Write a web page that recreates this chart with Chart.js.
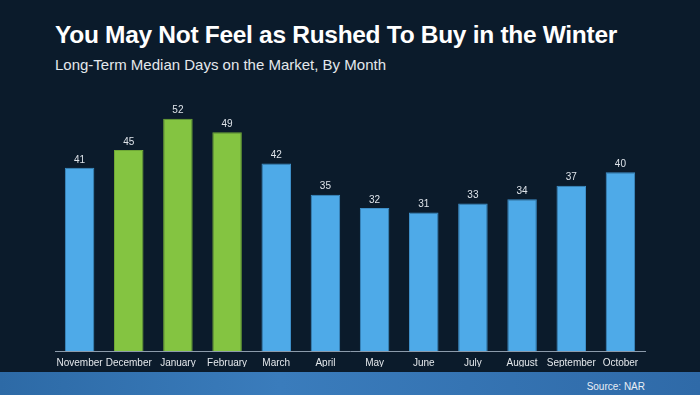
<!DOCTYPE html>
<html lang="en">
<head>
  <meta charset="UTF-8">
  <script src="https://cdn.jsdelivr.net/npm/chart.js"></script>
  <title>Days on the Market</title>
  <style>
    html, body { margin:0; padding:0; }
    body { width:700px; height:395px; background:#0b1b2b; position:relative; overflow:hidden; font-family:"Liberation Sans", Arial, sans-serif; }
    #title { position:absolute; left:55px; top:21px; color:#fff; font-size:24.5px; font-weight:bold; letter-spacing:-0.3px; }
    #subtitle { position:absolute; left:55px; top:56px; color:#e4e8ec; font-size:15px; }
    #strip { position:absolute; left:0; top:372px; width:700px; height:23px; background:linear-gradient(90deg, #2d6aa6 0%, #3a7cbc 40%, #2f6aa8 100%); }
    #source { position:absolute; right:55px; top:381px; color:#e8eef5; font-size:10px; }
    #wrap { position:absolute; left:0; top:0; width:700px; height:395px; }
  </style>
</head>
<body>
  <div id="strip"></div>
  <div id="title">You May Not Feel as Rushed To Buy in the Winter</div>
  <div id="subtitle">Long-Term Median Days on the Market, By Month</div>
  <div id="source">Source: NAR</div>
  <div id="wrap"><canvas id="myChart"></canvas></div>
  <script>
    const months = ['November','December','January','February','March','April','May','June','July','August','September','October'];
    const days = [41, 45, 52, 49, 42, 35, 32, 31, 33, 34, 37, 40];
    const winterMonths = ['December','January','February'];

    const blue = '#4eaae8';
    const green = '#84c441';

    // value above each bar
    const topLabels = {
      id: 'topLabels',
      afterDatasetsDraw(chart){
        const ctx = chart.ctx;
        const meta = chart.getDatasetMeta(0);
        ctx.save();
        ctx.fillStyle = '#dfe4ea';
        ctx.font = '10px "Liberation Sans", Arial, sans-serif';
        ctx.textAlign = 'center';
        ctx.textBaseline = 'bottom';
        meta.data.forEach((bar, i) => {
          ctx.fillText(days[i], bar.x, bar.y - 3);
        });
        ctx.restore();
      }
    };

    new Chart(document.getElementById('myChart'), {
      type: 'bar',
      data: {
        labels: months,
        datasets: [{
          data: days,
          backgroundColor: months.map(m => winterMonths.includes(m) ? green : blue),
          borderColor: months.map(m => winterMonths.includes(m) ? '#6fa836' : '#3e8fc8'),
          borderWidth: 1,
          barPercentage: 0.6,
          categoryPercentage: 1
        }]
      },
      options: {
        responsive: true,
        maintainAspectRatio: false,
        animation: false,
        layout: { padding: { left: 55, right: 55, top: 83, bottom: 28 } },
        plugins: { legend: { display: false }, tooltip: { enabled: false } },
        scales: {
          x: {
            grid: { display: false },
            border: { display: true, color: '#8c9bab', width: 1 },
            ticks: { color: '#e4e8ec', font: { size: 10, family: '"Liberation Sans", Arial, sans-serif' }, padding: -2, maxRotation: 0, autoSkip: false }
          },
          y: { display: false, min: 0, max: 60 }
        }
      },
      plugins: [topLabels]
    });
  </script>
</body>
</html>
